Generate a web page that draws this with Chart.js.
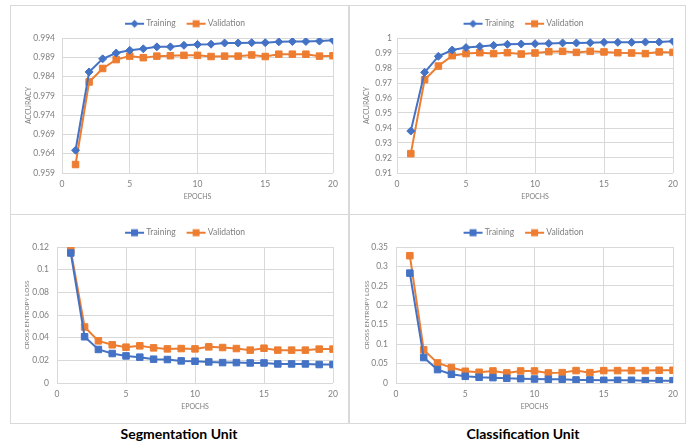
<!DOCTYPE html>
<html>
<head>
<meta charset="utf-8">
<script src="https://cdn.jsdelivr.net/npm/chart.js@4.4.0/dist/chart.umd.min.js"></script>
<style>
  body { margin: 0; background: #fff; width: 691px; height: 442px; position: relative; overflow: hidden; font-family: Lato, sans-serif; }
  .panel { position: absolute; border: 1px solid #d9d9d9; box-sizing: border-box; }
  .panel canvas { position: absolute; left: 0; top: 0; }
  .unit { position: absolute; top: 425px; font: bold 14px Lato, sans-serif; color: #000; transform: translateX(-50%); white-space: nowrap; }
</style>
</head>
<body>
<div class="panel" style="left:10px;top:5px;width:339px;height:210px"><canvas id="segAcc" width="337" height="208"></canvas></div>
<div class="panel" style="left:349px;top:5px;width:337px;height:210px"><canvas id="clsAcc" width="335" height="208"></canvas></div>
<div class="panel" style="left:10px;top:214px;width:339px;height:210px"><canvas id="segLoss" width="337" height="208"></canvas></div>
<div class="panel" style="left:349px;top:214px;width:337px;height:210px"><canvas id="clsLoss" width="335" height="208"></canvas></div>
<div class="unit" style="left:179px">Segmentation Unit</div>
<div class="unit" style="left:523px">Classification Unit</div>

<script>
const epochs = [1, 2, 3, 4, 5, 6, 7, 8, 9, 10, 11, 12, 13, 14, 15, 16, 17, 18, 19, 20];
const seriesNames = ['Training', 'Validation'];

// segmentation unit
const segAccTrain = [0.9649, 0.9852, 0.9886, 0.9901, 0.9908, 0.9912, 0.9917, 0.9917, 0.9921, 0.9923,
                     0.9924, 0.9927, 0.9927, 0.9928, 0.9928, 0.9930, 0.9931, 0.9931, 0.9932, 0.9934];
const segAccVal   = [0.9612, 0.9826, 0.9861, 0.9884, 0.9893, 0.9889, 0.9893, 0.9894, 0.9895, 0.9895,
                     0.9892, 0.9893, 0.9893, 0.9896, 0.9892, 0.9898, 0.9898, 0.9898, 0.9893, 0.9894];
const segLossTrain = [0.1147, 0.0408, 0.0296, 0.0260, 0.0239, 0.0228, 0.0210, 0.0207, 0.0195, 0.0192,
                      0.0186, 0.0180, 0.0180, 0.0177, 0.0177, 0.0168, 0.0168, 0.0168, 0.0163, 0.0163];
const segLossVal   = [0.1170, 0.0494, 0.0372, 0.0337, 0.0316, 0.0328, 0.0310, 0.0301, 0.0304, 0.0301,
                      0.0319, 0.0313, 0.0304, 0.0290, 0.0307, 0.0290, 0.0290, 0.0290, 0.0299, 0.0299];

// classification unit
const clsAccTrain = [0.9380, 0.9771, 0.9878, 0.9920, 0.9936, 0.9944, 0.9951, 0.9958, 0.9960, 0.9962,
                     0.9964, 0.9967, 0.9967, 0.9969, 0.9971, 0.9971, 0.9971, 0.9973, 0.9973, 0.9978];
const clsAccVal   = [0.9229, 0.9722, 0.9813, 0.9882, 0.9896, 0.9902, 0.9896, 0.9902, 0.9893, 0.9900,
                     0.9909, 0.9911, 0.9904, 0.9911, 0.9907, 0.9902, 0.9900, 0.9896, 0.9907, 0.9904];
const clsLossTrain = [0.2828, 0.0655, 0.0345, 0.0224, 0.0172, 0.0147, 0.0138, 0.0121, 0.0112, 0.0103,
                      0.0095, 0.0095, 0.0078, 0.0078, 0.0069, 0.0069, 0.0069, 0.0060, 0.0060, 0.0060];
const clsLossVal   = [0.3276, 0.0853, 0.0517, 0.0397, 0.0302, 0.0276, 0.0310, 0.0259, 0.0310, 0.0310,
                      0.0259, 0.0267, 0.0319, 0.0267, 0.0319, 0.0319, 0.0319, 0.0319, 0.0328, 0.0328];

const BLUE = '#4472c4';
const ORANGE = '#ed7d31';
const GRID = '#d9d9d9';
const TEXT = '#7f7f7f';

// legend swatch: short line with the marker in the middle (Excel style)
function legendIcon(color, marker) {
  const c = document.createElement('canvas');
  c.width = 40; c.height = 10;
  const ctx = c.getContext('2d');
  ctx.strokeStyle = color; ctx.fillStyle = color; ctx.lineWidth = 2;
  ctx.beginPath(); ctx.moveTo(15, 5); ctx.lineTo(34, 5); ctx.stroke();
  const cx = 24.5;
  ctx.beginPath();
  if (marker === 'rectRot') {
    ctx.moveTo(cx - 4, 5); ctx.lineTo(cx, 1); ctx.lineTo(cx + 4, 5); ctx.lineTo(cx, 9);
  } else {
    ctx.rect(cx - 3.5, 1.5, 7, 7);
  }
  ctx.closePath(); ctx.fill();
  return c;
}

const fmt = v => String(parseFloat(Number(v).toFixed(4)));

function makeChart(id, train, val, trainMarker, lay) {
  const ds = (name, arr, color, marker) => ({
    label: name,
    data: epochs.map((e, i) => ({ x: e, y: arr[i] })),
    borderColor: color,
    backgroundColor: color,
    borderWidth: 2,
    pointStyle: marker,
    pointRadius: marker === 'rectRot' ? 4 : 4.6,
    pointBorderWidth: 1,
    pointBackgroundColor: color,
    pointBorderColor: color,
    tension: 0
  });
  const icons = [legendIcon(BLUE, trainMarker), legendIcon(ORANGE, 'rect')];

  return new Chart(document.getElementById(id), {
    type: 'line',
    data: {
      datasets: [
        ds(seriesNames[0], train, BLUE, trainMarker),
        ds(seriesNames[1], val, ORANGE, 'rect')
      ]
    },
    options: {
      responsive: false,
      animation: false,
      layout: { padding: { left: lay.padLeft, right: 0, top: 4, bottom: 0 } },
      plugins: {
        legend: {
          position: 'top',
          labels: {
            usePointStyle: true,
            pointStyleWidth: 24,
            padding: 4,
            color: TEXT,
            font: { family: 'Lato', size: 8.5 },
            generateLabels: (chart) => chart.data.datasets.map((d, i) => ({
              text: d.label,
              pointStyle: icons[i],
              fontColor: TEXT,
              lineWidth: 0,
              strokeStyle: 'transparent',
              fillStyle: 'transparent',
              datasetIndex: i,
              hidden: false
            }))
          }
        },
        tooltip: { enabled: false }
      },
      scales: {
        x: {
          type: 'linear',
          min: 0, max: 20,
          ticks: { stepSize: 5, padding: 6, color: TEXT, font: { family: 'Lato', size: 8.5 }, maxRotation: 0 },
          grid: { color: GRID, drawTicks: false },
          border: { display: false },
          title: { display: true, text: 'EPOCHS', color: TEXT, font: { family: 'Lato', size: 7 }, padding: { top: 0, bottom: lay.xTitlePad } },
          afterFit: s => { s.height = lay.xHeight; s.paddingRight = lay.rightGap; }
        },
        y: {
          min: lay.yMin, max: lay.yMax,
          ticks: { stepSize: lay.yStep, padding: lay.yTickPad, color: TEXT, font: { family: 'Lato', size: 8.5 }, callback: fmt },
          grid: { color: GRID, drawTicks: false },
          border: { display: false },
          title: { display: true, text: lay.yTitle, color: TEXT, font: { family: 'Lato', size: lay.yTitleSize }, padding: { top: lay.yTitlePad, bottom: 0 } },
          afterFit: s => { s.width = lay.yWidth; s.paddingTop = 32; }
        }
      }
    }
  });
}

makeChart('segAcc', segAccTrain, segAccVal, 'rectRot', {
  padLeft: 4, yWidth: 47, rightGap: 15, xHeight: 41, xTitlePad: 12.8,
  yMin: 0.959, yMax: 0.994, yStep: 0.005, yTickPad: 7,
  yTitle: 'ACCURACY', yTitleSize: 7, yTitlePad: 9.8
});
makeChart('clsAcc', clsAccTrain, clsAccVal, 'rectRot', {
  padLeft: 5, yWidth: 42, rightGap: 12, xHeight: 41, xTitlePad: 12.8,
  yMin: 0.91, yMax: 1, yStep: 0.01, yTickPad: 5,
  yTitle: 'ACCURACY', yTitleSize: 7, yTitlePad: 7.8
});
makeChart('segLoss', segLossTrain, segLossVal, 'rect', {
  padLeft: 4, yWidth: 42, rightGap: 15, xHeight: 40, xTitlePad: 11.8,
  yMin: 0, yMax: 0.12, yStep: 0.02, yTickPad: 8,
  yTitle: 'CROSS ENTROPY LOSS', yTitleSize: 6.5, yTitlePad: 8.1
});
makeChart('clsLoss', clsLossTrain, clsLossVal, 'rect', {
  padLeft: 5, yWidth: 41, rightGap: 12, xHeight: 40, xTitlePad: 11.8,
  yMin: 0, yMax: 0.35, yStep: 0.05, yTickPad: 8,
  yTitle: 'CROSS ENTROPY LOSS', yTitleSize: 6.5, yTitlePad: 8.1
});
</script>
</body>
</html>
